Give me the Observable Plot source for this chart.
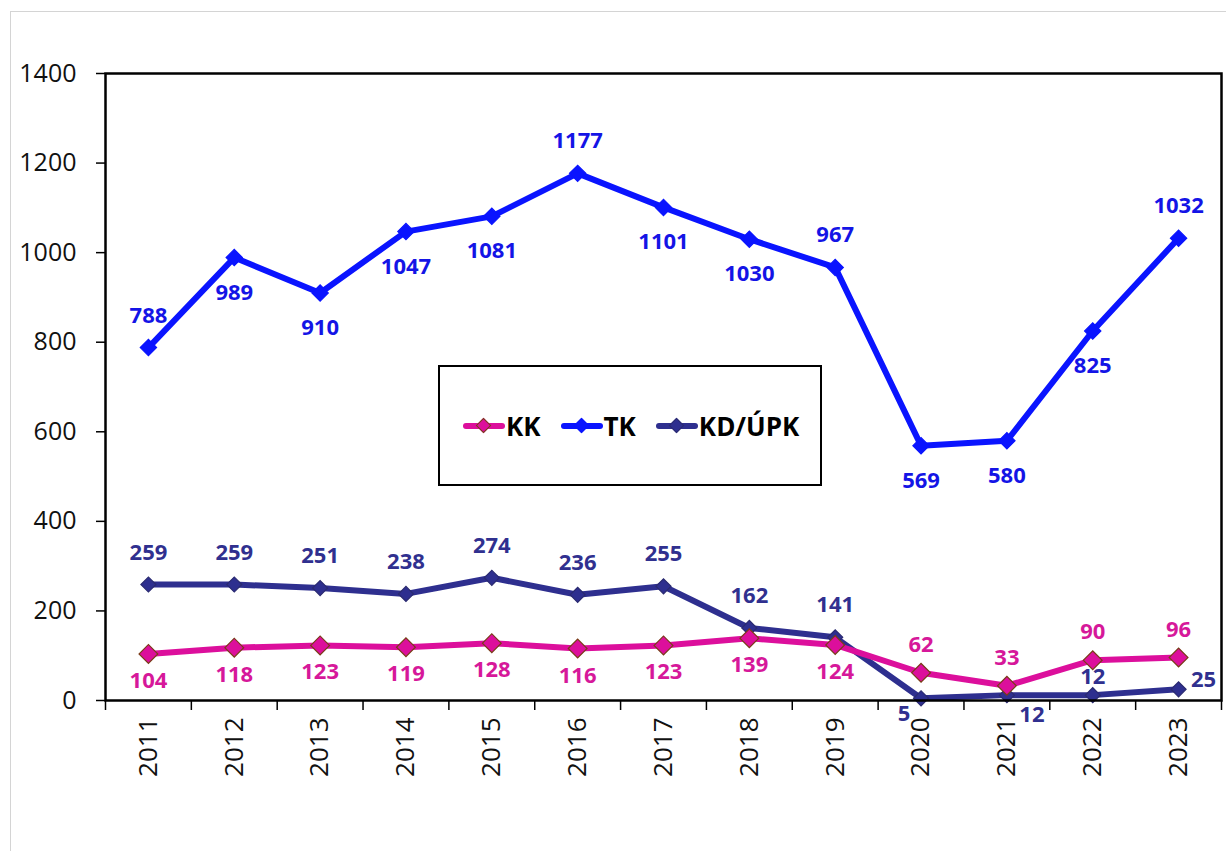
<!DOCTYPE html>
<html>
<head>
<meta charset="utf-8">
<script src="https://cdn.jsdelivr.net/npm/d3@7"></script>
<script src="https://cdn.jsdelivr.net/npm/@observablehq/plot@0.6"></script>
<style>
  html, body { margin: 0; padding: 0; background: #fff; }
  #wrap { position: relative; width: 1226px; height: 851px; overflow: hidden; font-family: "Open Sans", sans-serif; }
  #outer { position: absolute; left: 10px; top: 11px; width: 1230px; height: 860px; border: 1px solid #d4d4d4; box-sizing: border-box; }
  #legend { position: absolute; left: 438px; top: 365px; width: 384px; height: 121px; border: 2px solid #000; box-sizing: border-box; background: #fff;
    display: flex; align-items: center; padding-left: 23px; font-weight: 700; font-size: 26px; white-space: nowrap; }
  .item { display: flex; align-items: center; margin-right: 20px; white-space: nowrap; }
  .sw { position: relative; width: 42px; height: 6px; border-radius: 3px; margin-right: 1px; flex: none; }
  .sw i { position: absolute; left: 15px; top: -3px; width: 11px; height: 11px; transform: rotate(45deg); box-sizing: border-box; }
</style>
</head>
<body>
<div id="wrap">
  <div id="outer"></div>
  <div id="chart"></div>
  <div id="legend"></div>
</div>
<script>
const years = [2011, 2012, 2013, 2014, 2015, 2016, 2017, 2018, 2019, 2020, 2021, 2022, 2023];
const seriesNames = ["KK", "TK", "KD/ÚPK"];
const kk = [104, 118, 123, 119, 128, 116, 123, 139, 124, 62, 33, 90, 96];
const tk = [788, 989, 910, 1047, 1081, 1177, 1101, 1030, 967, 569, 580, 825, 1032];
const kd = [259, 259, 251, 238, 274, 236, 255, 162, 141, 5, 12, 12, 25];
const yTicks = [0, 200, 400, 600, 800, 1000, 1200, 1400];

// label placement (style): a = above, b = below, bl/br/r special
const kkPlace = ["b","b","b","b","b","b","b","b","b","a","a","a","a"];
const tkPlace = ["a","b","b","b","b","a","b","b","a","b","b","b","a"];
const kdPlace = ["a","a","a","a","a","a","a","a","a","bl","br","a2","r"];

const lineColor = { "KK": "#dc0f9c", "TK": "#0a14ff", "KD/ÚPK": "#2e2f8f" };
const labelColor = { "KK": "#d6189a", "TK": "#1414e6", "KD/ÚPK": "#30308f" };
const markerStroke = { "KK": "#7a3c18", "TK": "#0a14ff", "KD/ÚPK": "#2a2a70" };

const offs = {
  a: [0, -32], b: [0, 35], bl: [-17, 16], br: [25, 20], a2: [0, -18], r: [25, -9]
};
const kkOffs = { a: [0, -28], b: [0, 27] };

function rows(name, vals, place) {
  return years.map((yr, i) => ({ series: name, year: yr, value: vals[i], place: place[i] }));
}
const data = [
  ...rows("KD/ÚPK", kd, kdPlace),
  ...rows("KK", kk, kkPlace),
  ...rows("TK", tk, tkPlace)
];
const bounds = [years[0] - 0.5, ...years.map(y => y + 0.5)];

function offFor(d) {
  const o = d.series === "KK" ? kkOffs : offs;
  return o[d.place] || offs[d.place];
}

const labelMarks = [];
for (const d of data) {
  const [dx, dy] = offFor(d);
  labelMarks.push(Plot.text([d], {
    x: "year", y: "value", text: d => String(d.value), dx, dy,
    fill: labelColor[d.series], fontWeight: 700, fontSize: 22
  }));
}

function seriesMarks(s, r) {
  const rowsS = data.filter(d => d.series === s);
  return [
    Plot.line(rowsS, { x: "year", y: "value", stroke: lineColor[s], strokeWidth: 6 }),
    Plot.dot(rowsS, { x: "year", y: "value", symbol: "square", rotate: 45, r, fill: lineColor[s], stroke: markerStroke[s], strokeWidth: 1.2 })
  ];
}

const chart = Plot.plot({
  width: 1226,
  height: 851,
  marginLeft: 105,
  marginRight: 5,
  marginTop: 73,
  marginBottom: 151,
  style: { fontFamily: "'Open Sans', sans-serif", background: "transparent" },
  x: { type: "linear", domain: [years[0] - 0.5, years[years.length - 1] + 0.5] },
  y: { domain: [0, 1400] },
  marks: [
    Plot.axisY({ ticks: yTicks, tickSize: 9, tickPadding: 20, fontSize: 25, tickFormat: d => String(d), stroke: "#000", strokeWidth: 1.5, label: null, fill: "#111" }),
    Plot.axisX({ ticks: years, tickSize: 0, tickRotate: -90, tickPadding: 17, fontSize: 26, tickFormat: d => String(d), label: null, fill: "#111" }),
    Plot.axisX({ ticks: bounds, tickSize: 10, tickFormat: () => "", label: null, stroke: "#000", strokeWidth: 1.5 }),
    ...seriesMarks("KD/ÚPK", 6),
    ...seriesMarks("KK", 7.5),
    ...seriesMarks("TK", 6.5),
    Plot.frame({ stroke: "#000", strokeWidth: 2.5 }),
    ...labelMarks
  ]
});
chart.style.position = "absolute";
chart.style.left = "0px";
chart.style.top = "0px";
document.getElementById("chart").appendChild(chart);

const legend = document.getElementById("legend");
for (const s of seriesNames) {
  const item = document.createElement("div");
  item.className = "item";
  const sw = document.createElement("div");
  sw.className = "sw";
  sw.style.background = lineColor[s];
  const m = document.createElement("i");
  m.style.background = lineColor[s];
  m.style.border = "1px solid " + markerStroke[s];
  sw.appendChild(m);
  const t = document.createElement("span");
  t.textContent = s;
  t.style.color = "#000";
  item.appendChild(sw);
  item.appendChild(t);
  legend.appendChild(item);
}
</script>
</body>
</html>
